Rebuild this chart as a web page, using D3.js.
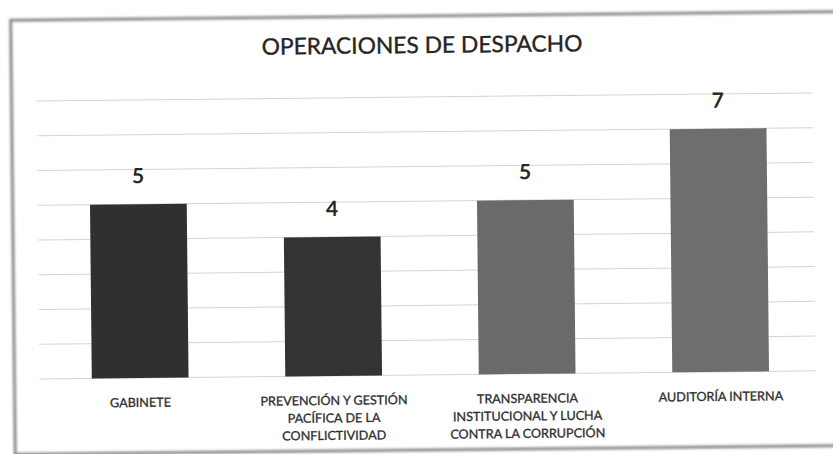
<!DOCTYPE html>
<html>
<head>
<meta charset="utf-8">
<script src="https://cdn.jsdelivr.net/npm/d3@7/dist/d3.min.js"></script>
<style>
  html, body { margin: 0; padding: 0; background: #fff; }
  svg { display: block; }
</style>
</head>
<body>
<script>
// Chart data
const title = "OPERACIONES DE DESPACHO";
const categories = [
  "GABINETE",
  "PREVENCIÓN Y GESTIÓN PACÍFICA DE LA CONFLICTIVIDAD",
  "TRANSPARENCIA INSTITUCIONAL Y LUCHA CONTRA LA CORRUPCIÓN",
  "AUDITORÍA INTERNA"
];
const categoryLines = [
  ["GABINETE"],
  ["PREVENCIÓN Y GESTIÓN", "PACÍFICA DE LA", "CONFLICTIVIDAD"],
  ["TRANSPARENCIA", "INSTITUCIONAL Y LUCHA", "CONTRA LA CORRUPCIÓN"],
  ["AUDITORÍA INTERNA"]
];
const values = [5, 4, 5, 7];
const gridTicks = [0, 1, 2, 3, 4, 5, 6, 7, 8];

// Styling
const barColors = ["#303030", "#333333", "#6a6a6a", "#6e6e6e"];
const W = 833, H = 454;
const font = "Lato, 'Open Sans', sans-serif";

const svg = d3.select("body").append("svg")
  .attr("width", W).attr("height", H);

const defs = svg.append("defs");
defs.append("filter").attr("id", "soft")
  .attr("x", "-5%").attr("y", "-5%").attr("width", "110%").attr("height", "110%")
  .append("feGaussianBlur").attr("stdDeviation", 0.9);

// Whole sheet is tilted slightly
const sheet = svg.append("g").attr("transform", "rotate(-0.6, 420, 240)");

// Outer frame (right edge runs off the page)
sheet.append("rect")
  .attr("x", 13).attr("y", 16)
  .attr("width", 900).attr("height", 434)
  .attr("fill", "none")
  .attr("stroke", "#8a8a8a")
  .attr("stroke-width", 3)
  .attr("filter", "url(#soft)");

const x = d3.scaleBand()
  .domain(categories)
  .range([42, 816])
  .paddingInner(0.5)
  .paddingOuter(0.25);

const y = d3.scaleLinear()
  .domain([0, 8])
  .range([375, 97]);

// Gridlines
sheet.append("g")
  .selectAll("line")
  .data(gridTicks)
  .join("line")
  .attr("x1", 38).attr("x2", 814)
  .attr("y1", d => y(d)).attr("y2", d => y(d))
  .attr("stroke", "#d4d4d4")
  .attr("stroke-width", 1);

// Title
sheet.append("text")
  .attr("x", 424).attr("y", 53)
  .attr("text-anchor", "middle")
  .attr("font-family", font)
  .attr("font-size", 22.8)
  .attr("fill", "#242424")
  .attr("stroke", "#242424")
  .attr("stroke-width", 0.35)
  .text(title);

// Bars
sheet.append("g")
  .selectAll("rect")
  .data(values)
  .join("rect")
  .attr("x", (d, i) => x(categories[i]))
  .attr("width", x.bandwidth())
  .attr("y", d => y(d))
  .attr("height", d => y(0) - y(d))
  .attr("fill", (d, i) => barColors[i]);

// Value labels
sheet.append("g")
  .selectAll("text")
  .data(values)
  .join("text")
  .attr("x", (d, i) => x(categories[i]) + x.bandwidth() / 2)
  .attr("y", d => y(d) - 21)
  .attr("text-anchor", "middle")
  .attr("font-family", font)
  .attr("font-weight", "bold")
  .attr("font-size", 21)
  .attr("fill", "#262626")
  .text(d => d);

// Category labels
const cat = sheet.append("g")
  .selectAll("text")
  .data(categoryLines)
  .join("text")
  .attr("x", (d, i) => x(categories[i]) + x.bandwidth() / 2)
  .attr("y", 404)
  .attr("text-anchor", "middle")
  .attr("font-family", font)
  .attr("font-size", 12.6)
  .attr("fill", "#2e2e2e")
  .attr("stroke", "#2e2e2e")
  .attr("stroke-width", 0.3);
cat.selectAll("tspan")
  .data(d => d)
  .join("tspan")
  .attr("x", function () { return d3.select(this.parentNode).attr("x"); })
  .attr("dy", (d, j) => j === 0 ? 0 : 17.5)
  .text(d => d);
</script>
</body>
</html>
